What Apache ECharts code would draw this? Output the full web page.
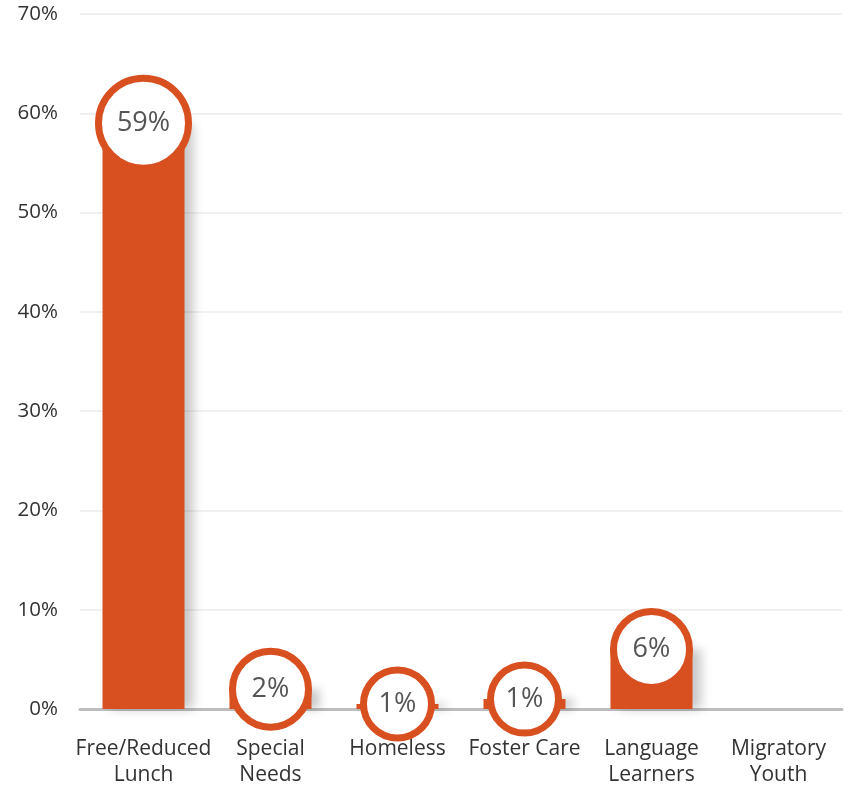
<!DOCTYPE html>
<html><head><meta charset="utf-8">
<script src="https://cdn.jsdelivr.net/npm/echarts@6/dist/echarts.min.js"></script>
<style>html,body{margin:0;padding:0;background:#fff}#c{width:848px;height:786px}</style>
</head><body><div id="c"></div>
<script>
const categories = ['Free/Reduced\nLunch', 'Special\nNeeds', 'Homeless', 'Foster Care', 'Language\nLearners', 'Migratory\nYouth'];
const values = [59, 2, 0.5, 1, 6, 0];
const yTicks = [0, 10, 20, 30, 40, 50, 60, 70];

const ORANGE = '#D84F20';
const FONT = '"Open Sans"';
const chart = echarts.init(document.getElementById('c'));
chart.setOption({
  animation: false,
  grid: { left: 80, right: 6, top: 14, bottom: 77, containLabel: false, outerBoundsMode: 'none' },
  xAxis: {
    type: 'category', data: categories,
    axisLine: { lineStyle: { color: '#bdbdbd', width: 3 } },
    axisTick: { show: false },
    axisLabel: { color: '#333', fontFamily: FONT, fontSize: 21, lineHeight: 26, margin: 27, interval: 0 }
  },
  yAxis: {
    type: 'value', min: yTicks[0], max: yTicks[yTicks.length - 1], interval: 10,
    axisLabel: { color: '#333', fontFamily: FONT, fontSize: 20.5, margin: 22, formatter: v => v + '%' },
    splitLine: { lineStyle: { color: '#f0f0f0', width: 2 } },
    axisLine: { show: false }, axisTick: { show: false }
  },
  series: [
    {
      type: 'bar', data: values, barWidth: 82, z: 2,
      itemStyle: { color: ORANGE, shadowColor: 'rgba(0,0,0,0.22)', shadowBlur: 10, shadowOffsetX: 8, shadowOffsetY: 0 }
    },
    {
      type: 'scatter', z: 5,
      data: values.map(v => v > 0 ? v : '-'),
      symbol: 'circle',
      symbolSize: v => v >= 50 ? 90 : (v >= 2 ? 76 : 68),
      itemStyle: { color: '#fff', borderColor: ORANGE, borderWidth: 7, opacity: 1 },
      label: {
        show: true, position: 'inside', color: '#555', fontFamily: FONT, fontSize: 27,
        formatter: p => Math.round(p.value) + '%'
      }
    }
  ]
});
</script>
</body></html>
